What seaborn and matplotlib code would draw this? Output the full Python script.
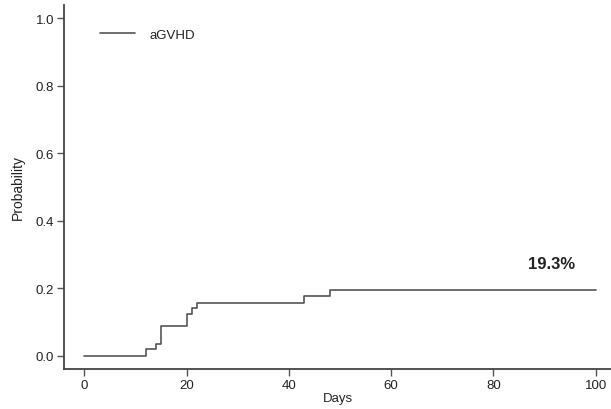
import matplotlib
matplotlib.use("Agg")
import matplotlib.pyplot as plt
import seaborn as sns
import pandas as pd

days = [0, 12, 14, 15, 20, 21, 22, 43, 48, 100]
probability = [0.0, 0.018, 0.035, 0.087, 0.122, 0.140, 0.157, 0.176, 0.193, 0.193]
series_name = "aGVHD"
annotation = "19.3%"
x_ticks = [0, 20, 40, 60, 80, 100]
y_ticks = [0.0, 0.2, 0.4, 0.6, 0.8, 1.0]

sns.set_style("white")
plt.rcParams['font.family'] = ['Liberation Sans', 'DejaVu Sans']

df = pd.DataFrame({"Days": days, "Probability": probability, "group": series_name})

fig = plt.figure(figsize=(6.11, 4.10), dpi=100)
ax = fig.add_axes([64/611, 40/410, 547/611, 364/410])

sns.lineplot(data=df, x="Days", y="Probability", hue="group", palette=["#555555"],
             drawstyle="steps-post", linewidth=1.2, ax=ax, estimator=None)

ax.set_xlim(-4, 103)
ax.set_ylim(-0.04, 1.04)
ax.set_xticks(x_ticks)
ax.set_yticks(y_ticks)
ax.set_yticklabels([f"{v:.1f}" for v in y_ticks])
ax.tick_params(axis='both', direction='out', length=5, width=1, color='#555555',
               labelsize=9.5, labelcolor='#222222', bottom=True, left=True, pad=2)

for s in ['top', 'right']:
    ax.spines[s].set_visible(False)
for s in ['left', 'bottom']:
    ax.spines[s].set_color('#444444')
    ax.spines[s].set_linewidth(1.3)

ax.set_xlabel("Days", fontsize=9.5, color='#222222', labelpad=1)
ax.set_ylabel("Probability", fontsize=10, color='#222222', labelpad=8)

ax.text(91.3, 0.272, annotation, fontsize=12, fontweight='bold', ha='center', va='center', color='#222222')

leg = ax.legend(loc='upper left', bbox_to_anchor=(0.045, 0.968), frameon=False,
                handlelength=2.6, handletextpad=1.15, fontsize=9.5, title=None)
for t in leg.get_texts():
    t.set_color('#222222')

fig.savefig("out.png", dpi=100)
